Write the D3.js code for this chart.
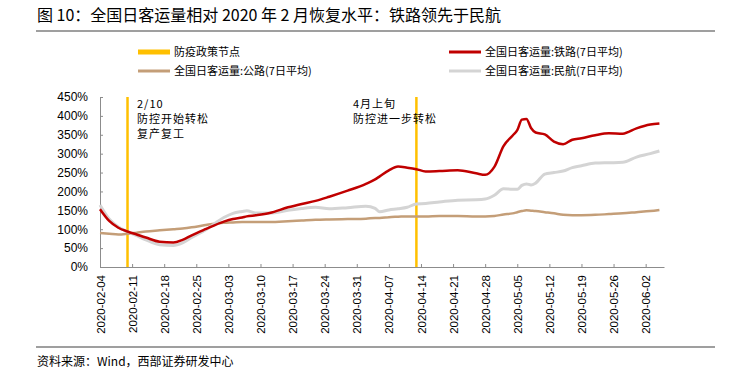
<!DOCTYPE html>
<html>
<head>
<meta charset="utf-8">
<script src="https://cdn.jsdelivr.net/npm/d3@7"></script>
<style>
	body { margin: 0; background: #fff; }
	text { font-family: "Liberation Sans", Arial, "Noto Sans CJK SC", sans-serif; fill: #000; }
	.cn { font-family: "Noto Sans CJK SC", sans-serif; }
	.axis path, .axis line { stroke: #8c8c8c; }
	.axis text { font-size: 11.5px; }
</style>
</head>
<body>
<script>
//dates (shared by all three series)
var dates = ["2020-02-04","2020-02-06","2020-02-08","2020-02-10","2020-02-12","2020-02-14","2020-02-17","2020-02-20","2020-02-22","2020-02-24",
	"2020-02-27","2020-03-02","2020-03-04","2020-03-06","2020-03-07","2020-03-09","2020-03-12","2020-03-16","2020-03-19","2020-03-22",
	"2020-03-25","2020-03-29","2020-04-02","2020-04-04","2020-04-05","2020-04-07","2020-04-09","2020-04-11","2020-04-13","2020-04-15",
	"2020-04-18","2020-04-22","2020-04-26","2020-04-28","2020-04-30","2020-05-02","2020-05-04","2020-05-05","2020-05-06","2020-05-07",
	"2020-05-08","2020-05-09","2020-05-11","2020-05-13","2020-05-15","2020-05-17","2020-05-19","2020-05-22","2020-05-25","2020-05-28",
	"2020-05-31","2020-06-03","2020-06-05"];

// % of Feb level
var rail = [153,122,104,94,86,78,67,65,72,84,
	100,120,127,131,134,137,143,158,167,175,
	186,202,220,232,240,256,266,263,259,253,
	254,256,248,244,265,320,348,362,390,392,
	368,356,351,332,325,337,341,349,354,353,
	367,377,380];
var road = [90,88,86,88,91,94,97,100,102,105,
	111,117,118,119,119,119,119,121,123,125,
	126,127,128,130,130,132,133,134,134,134,
	135,135,134,134,135,139,142,145,148,150,
	149,148,145,142,138,137,137,138,140,142,
	145,148,151];
var air = [164,127,106,94,83,72,59,57,64,78,
	98,131,142,147,149,143,143,150,155,158,
	154,157,161,155,146,151,154,158,167,168,
	172,177,178,180,190,207,206,206,216,220,
	217,222,246,250,254,263,268,275,276,277,
	291,300,307];

var tickDates = ["2020-02-04","2020-02-11","2020-02-18","2020-02-25","2020-03-03","2020-03-10","2020-03-17","2020-03-24","2020-03-31",
	"2020-04-07","2020-04-14","2020-04-21","2020-04-28","2020-05-05","2020-05-12","2020-05-19","2020-05-26","2020-06-02"];
var yTicks = [0,50,100,150,200,250,300,350,400,450];

var policyDates = ["2020-02-10","2020-04-13"];
var notes = [["2/10","防控开始转松","复产复工"],["4月上旬","防控进一步转松"]];

var titleText = "图 10：全国日客运量相对 2020 年 2 月恢复水平：铁路领先于民航";
var sourceText = "资料来源：Wind，西部证券研发中心";

var seriesNames = ["全国日客运量:铁路(7日平均)","全国日客运量:公路(7日平均)","全国日客运量:民航(7日平均)"];
var colors = {rail:"#C00000", road:"#C49E78", air:"#D4D4D4", policy:"#FFC000"};

var W = 731, H = 374;
var parse = d3.timeParse("%Y-%m-%d");

var svg = d3.select("body").append("svg")
	.attr("width", W)
	.attr("height", H);

//title + rules
svg.append("text")
	.attr("class", "cn")
	.attr("x", 37)
	.attr("y", 21)
	.style("font-size", "16px")
	.text(titleText);
svg.append("line")
	.attr("x1", 36).attr("x2", 715)
	.attr("y1", 31).attr("y2", 31)
	.style("stroke", "#7f7f7f").style("stroke-width", 1.5);
svg.append("line")
	.attr("x1", 36).attr("x2", 715)
	.attr("y1", 347).attr("y2", 347)
	.style("stroke", "#7f7f7f").style("stroke-width", 1.5);
svg.append("text")
	.attr("class", "cn")
	.attr("x", 37)
	.attr("y", 366)
	.style("font-size", "12px")
	.text(sourceText);

//scales
var x = d3.scaleTime()
	.domain([parse("2020-02-04"), parse("2020-06-06")])
	.range([100, 664]);
var y = d3.scaleLinear()
	.domain([0, 450])
	.range([267, 97]);

//axes
var xAxis = d3.axisBottom(x)
	.tickValues(tickDates.map(parse))
	.tickSizeInner(-3)
	.tickSizeOuter(0)
	.tickPadding(6)
	.tickFormat(d3.timeFormat("%Y-%m-%d"));
var yAxis = d3.axisLeft(y)
	.tickValues(yTicks)
	.tickSizeInner(-3)
	.tickSizeOuter(0)
	.tickPadding(12)
	.tickFormat(function(d) { return d + "%"; });

var gX = svg.append("g")
	.attr("class", "axis axis--x")
	.attr("transform", "translate(0," + y(0) + ")")
	.call(xAxis);
gX.selectAll("text")
	.attr("transform", "rotate(-90)")
	.attr("x", -8)
	.attr("y", 0)
	.attr("dy", "0.35em")
	.style("text-anchor", "end");

svg.append("g")
	.attr("class", "axis axis--y")
	.attr("transform", "translate(" + x.range()[0] + ",0)")
	.call(yAxis)
	.selectAll("text").style("font-size", "12px");

//policy lines
svg.append("g").selectAll("line")
	.data(policyDates).enter()
		.append("line")
		.attr("x1", function(d) { return x(parse(d)); })
		.attr("x2", function(d) { return x(parse(d)); })
		.attr("y1", y(450))
		.attr("y2", y(0))
		.style("stroke", colors.policy)
		.style("stroke-width", 2.5);

//series
var line = d3.line()
	.curve(d3.curveMonotoneX)
	.x(function(d) { return x(d.date); })
	.y(function(d) { return y(d.v); });

function toPoints(vals) {
	return dates.map(function(d, i) { return {date: parse(d), v: vals[i]}; });
}

[[road, colors.road, 2.5], [air, colors.air, 3], [rail, colors.rail, 2.5]].forEach(function(s) {
	svg.append("path")
		.datum(toPoints(s[0]))
		.attr("d", line)
		.style("fill", "none")
		.style("stroke", s[1])
		.style("stroke-width", s[2])
		.style("stroke-linejoin", "round");
});

//annotations
var noteX = [137, 353];
notes.forEach(function(lines, k) {
	lines.forEach(function(t, j) {
		svg.append("text")
			.attr("class", "cn")
			.attr("x", noteX[k])
			.attr("y", 108 + j * 15)
			.style("font-size", "11px")
			.style("letter-spacing", "1px")
			.text(t);
	});
});

//legend
var legend = svg.append("g");
legend.append("rect")
	.attr("x", 138).attr("y", 49.5)
	.attr("width", 32).attr("height", 5)
	.style("fill", colors.policy);
legend.append("text")
	.attr("class", "cn").attr("x", 174).attr("y", 56)
	.style("font-size", "11px").text("防疫政策节点");

var legendItems = [
	{x: 449, y: 52, color: colors.rail, name: seriesNames[0]},
	{x: 138, y: 71, color: colors.road, name: seriesNames[1]},
	{x: 449, y: 71, color: colors.air, name: seriesNames[2]}
];
legendItems.forEach(function(d) {
	legend.append("line")
		.attr("x1", d.x).attr("x2", d.x + 32)
		.attr("y1", d.y).attr("y2", d.y)
		.style("stroke", d.color).style("stroke-width", 3);
	legend.append("text")
		.attr("class", "cn").attr("x", d.x + 36).attr("y", d.y + 4)
		.style("font-size", "11px").text(d.name);
});
</script>
</body>
</html>
